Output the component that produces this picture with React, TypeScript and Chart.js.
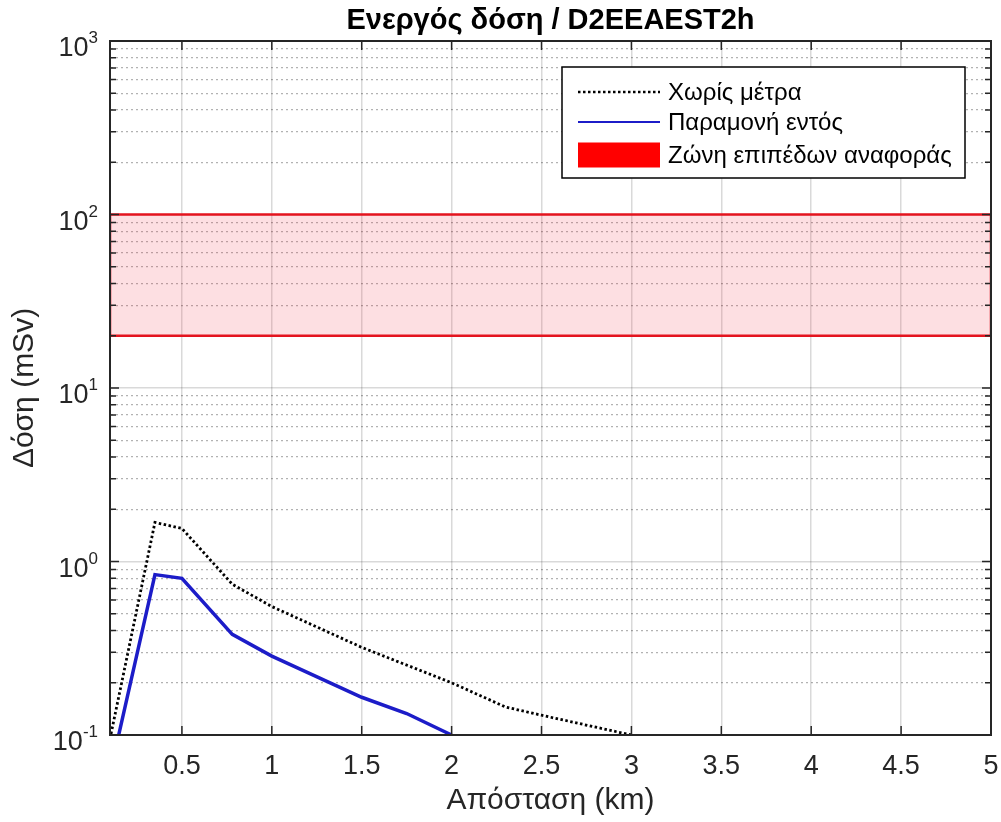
import React, { useEffect, useRef } from 'react';
import { Chart, registerables } from 'chart.js';

Chart.register(...registerables);

const TITLE = 'Ενεργός δόση / D2EEAEST2h';
const X_LABEL = 'Απόσταση (km)';
const Y_LABEL = 'Δόση (mSv)';

const LABEL_NO_MEASURES = 'Χωρίς μέτρα';
const LABEL_SHELTER = 'Παραμονή εντός';
const LABEL_BAND = 'Ζώνη επιπέδων αναφοράς';

// Distance (km) and dose (mSv)
const distNoMeasures = [0.1, 0.35, 0.5, 0.78, 1.0, 1.5, 2.0, 2.3, 2.5, 3.0];
const doseNoMeasures = [0.095, 1.68, 1.55, 0.74, 0.55, 0.32, 0.2, 0.145, 0.13, 0.1];
const distShelter = [0.1, 0.35, 0.5, 0.78, 1.0, 1.5, 1.75, 2.0];
const doseShelter = [0.06, 0.84, 0.8, 0.38, 0.285, 0.165, 0.133, 0.1];

// Reference-level band
const bandX = [0.1, 5];
const bandLow = 20;
const bandHigh = 100;

// Axes
const xRange = [0.1, 5];
const yRange = [0.1, 1000];
const xTicks = [0.5, 1, 1.5, 2, 2.5, 3, 3.5, 4, 4.5, 5];
const yDecades = [0.1, 1, 10, 100, 1000];
const yMinorMultipliers = [2, 3, 4, 5, 6, 7, 8, 9];

const FONT = '"Liberation Sans", Arial, Helvetica, sans-serif';
const AXIS_COLOR = '#262626';
const BLUE = '#1c1cc8';
const RED = '#ff0000';

function buildYTicks() {
  const ticks: { value: number; major: boolean }[] = [];
  yDecades.forEach((d, i) => {
    ticks.push({ value: d, major: true });
    if (i < yDecades.length - 1) {
      yMinorMultipliers.forEach((m) => ticks.push({ value: d * m, major: false }));
    }
  });
  return ticks;
}

const frameplugin = {
  id: 'matlabFrame',
  afterDraw(chart: any) {
    const ctx = chart.ctx as CanvasRenderingContext2D;
    const ca = chart.chartArea;
    const xs = chart.scales.x;
    const ys = chart.scales.y;
    ctx.save();
    // ticks inside
    ctx.strokeStyle = AXIS_COLOR;
    ctx.lineWidth = 1.5;
    ctx.beginPath();
    xTicks.forEach((v) => {
      const px = xs.getPixelForValue(v);
      ctx.moveTo(px, ca.bottom);
      ctx.lineTo(px, ca.bottom - 9);
      ctx.moveTo(px, ca.top);
      ctx.lineTo(px, ca.top + 9);
    });
    buildYTicks().forEach((t) => {
      const py = ys.getPixelForValue(t.value);
      const len = t.major ? 9 : 6;
      ctx.moveTo(ca.left, py);
      ctx.lineTo(ca.left + len, py);
      ctx.moveTo(ca.right, py);
      ctx.lineTo(ca.right - len, py);
    });
    ctx.stroke();
    // box
    ctx.lineWidth = 2;
    ctx.strokeRect(ca.left, ca.top, ca.right - ca.left, ca.bottom - ca.top);

    // y labels 10^n
    ctx.fillStyle = AXIS_COLOR;
    ctx.textBaseline = 'alphabetic';
    yDecades.forEach((d) => {
      const py = ys.getPixelForValue(d);
      const exp = String(Math.round(Math.log10(d)));
      const xr = ca.left - 12;
      ctx.font = `17px ${FONT}`;
      ctx.textAlign = 'right';
      const ew = ctx.measureText(exp).width;
      ctx.fillText(exp, xr, py + 2);
      ctx.font = `27px ${FONT}`;
      ctx.fillText('10', xr - ew, py + 15);
    });

    // legend
    const w = 403;
    const h = 111;
    const x0 = ca.right - 26 - w;
    const y0 = ca.top + 26;
    ctx.fillStyle = '#ffffff';
    ctx.fillRect(x0, y0, w, h);
    ctx.strokeStyle = '#000000';
    ctx.lineWidth = 1.5;
    ctx.strokeRect(x0, y0, w, h);
    const ds = chart.data.datasets;
    const rows = [25, 55, 88];
    ctx.font = `24px ${FONT}`;
    ctx.textAlign = 'left';
    ctx.textBaseline = 'middle';
    [0, 1, 2].forEach((i) => {
      const d = ds[i];
      const cy = y0 + rows[i];
      if (i < 2) {
        ctx.save();
        ctx.strokeStyle = d.borderColor;
        ctx.lineWidth = i === 0 ? 2.5 : 2;
        ctx.setLineDash(d.borderDash || []);
        ctx.beginPath();
        ctx.moveTo(x0 + 16, cy);
        ctx.lineTo(x0 + 98, cy);
        ctx.stroke();
        ctx.restore();
      } else {
        ctx.fillStyle = RED;
        ctx.fillRect(x0 + 16, cy - 12.5, 82, 25);
      }
      ctx.fillStyle = '#000000';
      ctx.fillText(d.label, x0 + 106, cy + 1);
    });
    ctx.restore();
  },
};

export default function App() {
  const ref = useRef<HTMLCanvasElement | null>(null);

  useEffect(() => {
    if (!ref.current) return;
    const chart = new Chart(ref.current, {
      type: 'line',
      data: {
        datasets: [
          {
            label: LABEL_NO_MEASURES,
            data: distNoMeasures.map((x, i) => ({ x, y: doseNoMeasures[i] })),
            borderColor: '#000000',
            borderWidth: 2.8,
            borderDash: [2.5, 2.5],
            pointRadius: 0,
            fill: false,
            tension: 0,
          },
          {
            label: LABEL_SHELTER,
            data: distShelter.map((x, i) => ({ x, y: doseShelter[i] })),
            borderColor: BLUE,
            borderWidth: 3.5,
            pointRadius: 0,
            fill: false,
            tension: 0,
          },
          {
            label: LABEL_BAND,
            data: bandX.map((x) => ({ x, y: bandHigh })),
            borderColor: RED,
            borderWidth: 0,
            backgroundColor: 'rgba(240, 30, 50, 0.14)',
            pointRadius: 0,
            fill: { value: bandLow },
          },
          {
            label: 'band-outline',
            data: [
              { x: bandX[0], y: bandLow },
              { x: bandX[0], y: bandHigh },
              { x: bandX[1], y: bandHigh },
              { x: bandX[1], y: bandLow },
              { x: bandX[0], y: bandLow },
            ],
            borderColor: '#e3141e',
            borderWidth: 2.5,
            pointRadius: 0,
            fill: false,
          },
        ],
      },
      options: {
        responsive: false,
        animation: false,
        layout: { padding: { left: 0, right: 10, top: 0, bottom: 0 } },
        plugins: {
          legend: { display: false },
          tooltip: { enabled: false },
          title: {
            display: true,
            fullSize: false,
            text: TITLE,
            color: '#000000',
            font: { family: FONT, size: 29, weight: 'bold' },
            padding: { top: 4, bottom: 2.2 },
          },
        },
        scales: {
          x: {
            type: 'linear',
            min: xRange[0],
            max: xRange[1],
            afterBuildTicks: (s: any) => {
              s.ticks = xTicks.map((v) => ({ value: v }));
            },
            afterFit: (s: any) => {
              s.height = 87;
              s.paddingRight = 0;
              s.paddingLeft = 0;
            },
            ticks: {
              color: AXIS_COLOR,
              font: { family: FONT, size: 27 },
              padding: 15,
              maxRotation: 0,
              autoSkip: false,
              callback: (v: any) => `${v}`,
            },
            grid: {
              color: 'rgba(0,0,0,0.15)',
              lineWidth: 1.5,
              drawTicks: false,
            },
            border: { display: true, color: AXIS_COLOR, width: 2 },
            title: {
              display: true,
              text: X_LABEL,
              color: AXIS_COLOR,
              font: { family: FONT, size: 30 },
              padding: { top: 0, bottom: 3 },
            },
          },
          y: {
            type: 'logarithmic',
            min: yRange[0],
            max: yRange[1],
            afterBuildTicks: (s: any) => {
              s.ticks = buildYTicks();
            },
            afterFit: (s: any) => {
              s.width = 110;
              s.paddingTop = 0;
              s.paddingBottom = 0;
            },
            ticks: { display: false },
            grid: {
              drawTicks: false,
              lineWidth: (c: any) => (c.tick && c.tick.major ? 1.5 : 1.2),
              color: (c: any) => (c.tick && c.tick.major ? 'rgba(0,0,0,0.15)' : 'rgba(0,0,0,0.3)'),
            },
            border: {
              display: true,
              color: AXIS_COLOR,
              width: 2,
              dash: (c: any) => (c.tick && !c.tick.major ? [2, 3] : []),
            },
            title: {
              display: true,
              text: Y_LABEL,
              color: AXIS_COLOR,
              font: { family: FONT, size: 30 },
              padding: { top: 7, bottom: 0 },
            },
          },
        },
      } as any,
      plugins: [frameplugin],
    });
    return () => chart.destroy();
  }, []);

  return (
    <div style={{ position: 'absolute', left: 0, top: 0, width: 1001, height: 822, background: '#fff' }}>
      <canvas ref={ref} width={1001} height={822} />
    </div>
  );
}
